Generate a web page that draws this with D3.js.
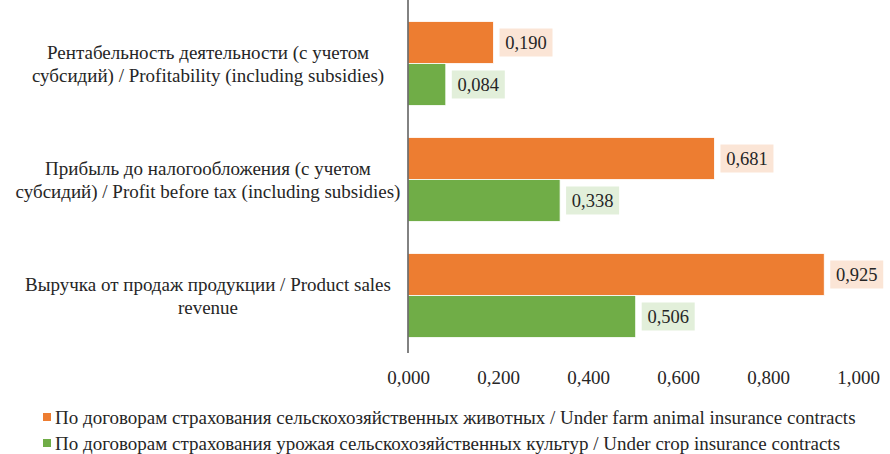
<!DOCTYPE html>
<html>
<head>
<meta charset="utf-8">
<script src="https://cdn.jsdelivr.net/npm/d3@7"></script>
<style>
  body { margin: 0; background: #fff; }
</style>
</head>
<body>
<svg id="chart" width="890" height="454" font-family="Liberation Serif"></svg>
<script>
// categories (top to bottom), each label split in lines
const categories = ["profitability", "profit", "revenue"];
const categoryLines = [
    ["Рентабельность деятельности (с учетом", "субсидий) / Profitability (including subsidies)"],
    ["Прибыль до налогообложения (с учетом", "субсидий) / Profit before tax (including subsidies)"],
    ["Выручка от продаж продукции / Product sales", "revenue"]
];
const seriesNames = [
    "По договорам страхования сельскохозяйственных животных / Under farm animal insurance contracts",
    "По договорам страхования урожая сельскохозяйственных культур / Under crop insurance contracts"
];
const animalValues = [0.190, 0.681, 0.925];
const cropValues = [0.084, 0.338, 0.506];
const xTicks = [0, 0.2, 0.4, 0.6, 0.8, 1.0];

const colors = ["#ED7D31", "#70AD47"];
const labelFills = ["#FBE5D6", "#E2EFDA"];
const textColor = "#262626";

let svg = d3.select("#chart");
let fmt = v => d3.format(".3f")(v).replace(".", ",");

let x = d3.scaleLinear().domain([0, 1]).range([408, 858]);
let y = d3.scaleBand().domain(categories).range([5.5, 353.5]).paddingInner(0.276).paddingOuter(0.138);
let ySub = d3.scaleBand().domain([0, 1]).range([0, y.bandwidth()]);

// bars + data labels
categories.forEach(function (cat, i) {
    let vals = [animalValues[i], cropValues[i]];
    vals.forEach(function (v, s) {
        let by = y(cat) + ySub(s);
        svg.append("rect")
            .attr("x", x(0))
            .attr("y", by)
            .attr("width", x(v) - x(0))
            .attr("height", ySub.bandwidth())
            .attr("fill", colors[s])
            .attr("stroke", "#fff")
            .attr("stroke-width", 0.8);

        let lx = x(v) + 6;
        let cy = by + ySub.bandwidth() / 2;
        svg.append("rect")
            .attr("x", lx)
            .attr("y", cy - 14)
            .attr("width", 53)
            .attr("height", 28)
            .attr("fill", labelFills[s]);
        svg.append("text")
            .attr("x", lx + 26.5)
            .attr("y", cy)
            .attr("dy", "0.35em")
            .attr("text-anchor", "middle")
            .attr("font-family", "Liberation Serif")
            .attr("font-size", 18.5)
            .attr("fill", textColor)
            .text(fmt(v));
    });
});

// vertical axis line
svg.append("line")
    .attr("x1", x(0)).attr("x2", x(0))
    .attr("y1", 0).attr("y2", 353)
    .attr("stroke", "#595959")
    .attr("stroke-width", 1.5);

// category labels
categories.forEach(function (cat, i) {
    let cy = y(cat) + y.bandwidth() / 2;
    let lines = categoryLines[i];
    lines.forEach(function (line, j) {
        svg.append("text")
            .attr("x", 208)
            .attr("y", cy + (j - (lines.length - 1) / 2) * 23)
            .attr("dy", "0.35em")
            .attr("text-anchor", "middle")
            .attr("font-family", "Liberation Serif")
            .attr("font-size", 19)
            .attr("fill", textColor)
            .text(line);
    });
});

// x tick labels
let xAxis = svg.append("g")
    .attr("transform", "translate(0,370)")
    .call(d3.axisBottom(x).tickValues(xTicks).tickSize(0).tickPadding(0).tickFormat(fmt));
xAxis.select(".domain").remove();
xAxis.attr("font-family", "Liberation Serif").attr("font-size", 19);
xAxis.selectAll("text").attr("fill", textColor);

// legend
seriesNames.forEach(function (name, s) {
    let ly = 417 + s * 26;
    svg.append("rect")
        .attr("x", 43).attr("y", ly - 4)
        .attr("width", 8).attr("height", 8)
        .attr("fill", colors[s]);
    svg.append("text")
        .attr("x", 55).attr("y", ly)
        .attr("dy", "0.35em")
        .attr("font-family", "Liberation Serif")
        .attr("font-size", 19)
        .attr("fill", textColor)
        .text(name);
});
</script>
</body>
</html>
